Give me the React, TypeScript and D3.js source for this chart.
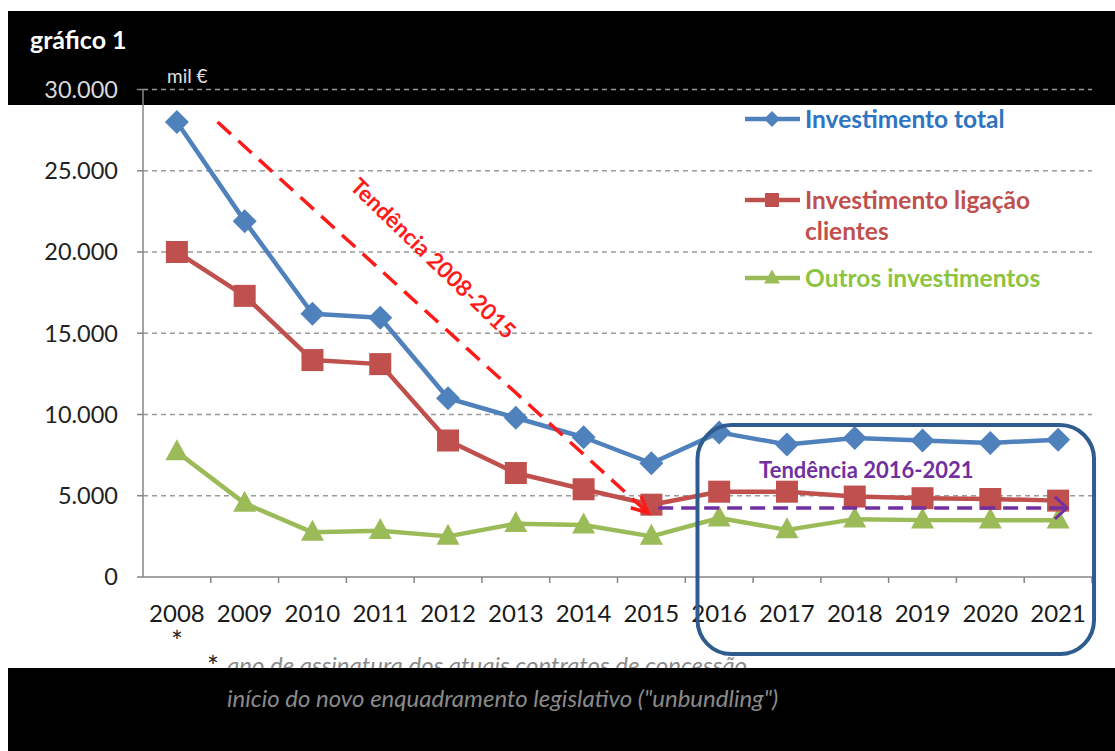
import React from "react";
import * as d3 from "d3";

const years = ["2008","2009","2010","2011","2012","2013","2014","2015","2016","2017","2018","2019","2020","2021"];
const investimentoTotal = [28000, 21900, 16200, 15950, 11000, 9800, 8600, 7000, 8900, 8150, 8550, 8400, 8250, 8450];
const investimentoClientes = [20000, 17300, 13350, 13100, 8400, 6400, 5400, 4450, 5250, 5250, 4950, 4850, 4800, 4700];
const outrosInvestimentos = [7700, 4530, 2750, 2850, 2500, 3280, 3200, 2500, 3630, 2900, 3560, 3500, 3500, 3500];
const yTicks = [0, 5000, 10000, 15000, 20000, 25000, 30000];
const yTickLabels = ["0", "5.000", "10.000", "15.000", "20.000", "25.000", "30.000"];
// annotation anchors in data space: [category index (fractional), value]
const trend1 = { from: [0.6, 28000], to: [6.95, 3950] };
const trend2 = { from: [7.1, 4250], to: [13.13, 4250] };

const FONT = "Lato, 'Open Sans', sans-serif";
const C_BLUE = "#4F81BD";
const C_RED = "#C0504D";
const C_GREEN = "#9BBB59";

export default function App() {
  const W = 1115, H = 751;
  const left = 143, right = 1092, top = 89.5, bottom = 577;
  const x = d3.scaleBand<string>().domain(years).range([left, right]).padding(0);
  const bw = x.bandwidth();
  const xc = (i: number) => left + bw * (i + 0.5);
  const y = d3.scaleLinear().domain([0, 30000]).range([bottom, top]);
  const line = d3.line<number>().x((_, i) => xc(i)).y((d) => y(d));

  const diamond = (cx: number, cy: number, r: number) => `M${cx},${cy - r}L${cx + r},${cy}L${cx},${cy + r}L${cx - r},${cy}Z`;
  const tri = (cx: number, cy: number, w: number, h: number) => `M${cx},${cy - h * 0.6}L${cx + w / 2},${cy + h * 0.4}L${cx - w / 2},${cy + h * 0.4}Z`;

  const t1x0 = xc(trend1.from[0]), t1y0 = y(trend1.from[1]);
  const t1x1 = xc(trend1.to[0]), t1y1 = y(trend1.to[1]);
  const ang1 = Math.atan2(t1y1 - t1y0, t1x1 - t1x0);
  const ah = 18, aa = 0.45;
  const t2x0 = xc(trend2.from[0]), t2y = y(trend2.from[1]);
  const t2x1 = xc(trend2.to[0]);

  const boxX0 = xc(7.68), boxX1 = xc(13.53), boxY0 = y(9350), boxY1 = bottom + 77;

  const legend = [
    { color: C_BLUE, text: ["Investimento total"], textColor: "#2E74C0", yv: 119, kind: "d" },
    { color: C_RED, text: ["Investimento ligação", "clientes"], textColor: "#C0504D", yv: 200, kind: "s" },
    { color: C_GREEN, text: ["Outros investimentos"], textColor: "#8CC43F", yv: 278, kind: "t" },
  ];

  return (
    <svg width={W} height={H} style={{ position: "absolute", left: 0, top: 0, background: "#fff" }} fontFamily={FONT}>
      <rect x={0} y={0} width={W} height={H} fill="#fff" />
      {/* gridlines */}
      {yTicks.filter((t) => t > 0 && t < 30000).map((t) => (
        <line key={t} x1={left} x2={right} y1={y(t)} y2={y(t)} stroke="#9a9a9a" strokeWidth={1.5} strokeDasharray="5,4" />
      ))}
      {/* top black band */}
      <rect x={8} y={11} width={W - 8} height={94} fill="#000" />
      <text x={30} y={49} fill="#fff" fontSize={25} fontWeight="bold">gráfico 1</text>
      <text x={167} y={83} fill="#e0e0e0" fontSize={19}>mil €</text>
      <line x1={left} x2={right} y1={y(30000)} y2={y(30000)} stroke="#9a9a9a" strokeWidth={1.5} strokeDasharray="5,4" />
      {/* axes */}
      <line x1={left} x2={left} y1={top} y2={bottom} stroke="#868686" strokeWidth={1.5} />
      <line x1={left} x2={right} y1={bottom} y2={bottom} stroke="#868686" strokeWidth={1.5} />
      {yTicks.map((t, i) => (
        <g key={t}>
          <line x1={left - 6} x2={left} y1={y(t)} y2={y(t)} stroke="#868686" strokeWidth={1.5} />
          <text x={118} y={y(t)} dy="0.36em" textAnchor="end" fontSize={23.5} fill={t === 30000 ? "#d9d9d9" : "#222"}>{yTickLabels[i]}</text>
        </g>
      ))}
      {years.map((yr, i) => (
        <line key={yr} x1={left + bw * (i + 1)} x2={left + bw * (i + 1)} y1={bottom} y2={bottom + 6} stroke="#868686" strokeWidth={1.5} />
      ))}
      {years.map((yr, i) => (
        <text key={yr} x={xc(i)} y={613} dy="0.36em" textAnchor="middle" fontSize={24} fill="#1a1a1a">{yr}</text>
      ))}
      {/* series */}
      <path d={line(outrosInvestimentos) || ""} fill="none" stroke={C_GREEN} strokeWidth={4.5} strokeLinejoin="round" />
      {outrosInvestimentos.map((v, i) => <path key={i} d={tri(xc(i), y(v), 23, 21)} fill={C_GREEN} />)}
      <path d={line(investimentoClientes) || ""} fill="none" stroke={C_RED} strokeWidth={4.5} strokeLinejoin="round" />
      {investimentoClientes.map((v, i) => <rect key={i} x={xc(i) - 11} y={y(v) - 11} width={22} height={22} fill={C_RED} />)}
      <path d={line(investimentoTotal) || ""} fill="none" stroke={C_BLUE} strokeWidth={4.5} strokeLinejoin="round" />
      {investimentoTotal.map((v, i) => <path key={i} d={diamond(xc(i), y(v), 12)} fill={C_BLUE} />)}
      {/* trend 2008-2015 */}
      <line x1={t1x0} y1={t1y0} x2={t1x1} y2={t1y1} stroke="#FF1A1A" strokeWidth={3.5} strokeDasharray="18,10" />
      <path d={`M${t1x1 - ah * Math.cos(ang1 - aa)},${t1y1 - ah * Math.sin(ang1 - aa)}L${t1x1},${t1y1}L${t1x1 - ah * Math.cos(ang1 + aa)},${t1y1 - ah * Math.sin(ang1 + aa)}`} fill="none" stroke="#FF1A1A" strokeWidth={3.5} />
      <text transform={`translate(${xc(3.78)},${y(19600)}) rotate(44)`} textAnchor="middle" dy="0.35em" fontSize={22.5} fontWeight="bold" fill="#FF1A1A">Tendência 2008-2015</text>
      {/* trend 2016-2021 */}
      <line x1={t2x0} y1={t2y} x2={t2x1} y2={t2y} stroke="#7030A0" strokeWidth={3.5} strokeDasharray="15,8" />
      <path d={`M${t2x1 - 12},${t2y - 11}L${t2x1},${t2y}L${t2x1 - 12},${t2y + 11}`} fill="none" stroke="#7030A0" strokeWidth={3} />
      <text x={xc(10.17)} y={y(6580)} dy="0.35em" textAnchor="middle" fontSize={22} fontWeight="bold" fill="#7030A0">Tendência 2016-2021</text>
      <rect x={boxX0} y={boxY0} width={boxX1 - boxX0} height={boxY1 - boxY0} rx={34} ry={34} fill="none" stroke="#2F5B8E" strokeWidth={4} />
      {/* legend */}
      {legend.map((l) => (
        <g key={l.kind}>
          <line x1={745} x2={800} y1={l.yv} y2={l.yv} stroke={l.color} strokeWidth={4.5} />
          {l.kind === "d" && <path d={diamond(772, l.yv, 8)} fill={l.color} />}
          {l.kind === "s" && <rect x={765} y={l.yv - 7} width={14} height={14} fill={l.color} />}
          {l.kind === "t" && <path d={tri(772, l.yv, 16, 14)} fill={l.color} />}
          {l.text.map((t, j) => (
            <text key={j} x={805} y={l.yv + j * 31} dy="0.36em" fontSize={24.5} fontWeight="bold" fill={l.textColor}>{t}</text>
          ))}
        </g>
      ))}
      {/* footnote */}
      <text x={xc(0)} y={652} textAnchor="middle" fontSize={28} fill="#222">*</text>
      <text x={213} y={677} textAnchor="middle" fontSize={28} fill="#222">*</text>
      <text x={227} y={674} fontSize={24} fontStyle="italic" fill="#8a8a8a">ano de assinatura dos atuais contratos de concessão</text>
      <rect x={8} y={668} width={W - 8} height={H - 668} fill="#000" />
      <text x={227} y={707} fontSize={24} fontStyle="italic" fill="#8a8a8a">início do novo enquadramento legislativo ("unbundling")</text>
    </svg>
  );
}
